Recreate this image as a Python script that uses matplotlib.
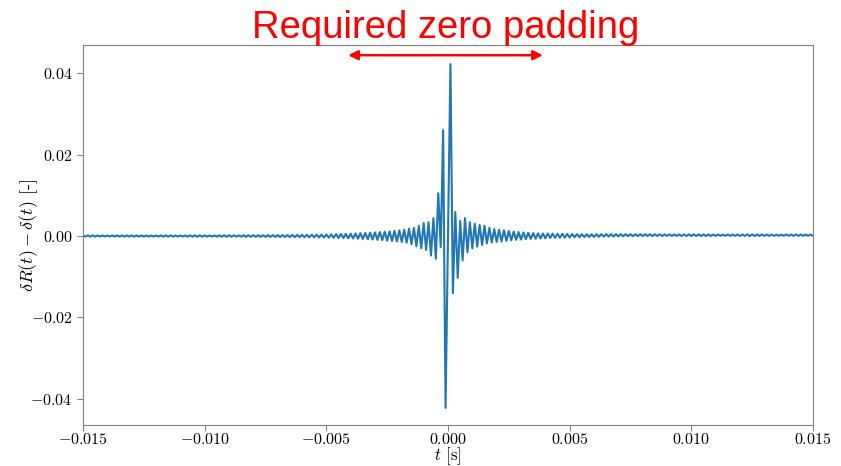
import numpy as np
import matplotlib
matplotlib.use("Agg")
import matplotlib.pyplot as plt
from matplotlib.ticker import FuncFormatter

plt.rcParams["mathtext.fontset"] = "cm"
plt.rcParams["font.family"] = "serif"
plt.rcParams["font.serif"] = ["cmr10", "DejaVu Serif"]
plt.rcParams["axes.formatter.use_mathtext"] = True

# sample step of the extrema (half a ringing period)
step = 1e-4
t_start = -0.015

# signal values in units of 1e-3, one per step from t = -0.015 to t = 0.015
left_far = [
    0.14, -0.13, 0.15, -0.14, 0.16, -0.15, 0.15, -0.13, 0.14, -0.12,
    0.12, -0.11, 0.13, -0.12, 0.14, -0.14, 0.15, -0.15, 0.16, -0.15,
    0.16, -0.16, 0.15, -0.14, 0.14, -0.13, 0.12, -0.12, 0.12, -0.13,
    0.14, -0.15, 0.16, -0.16, 0.17, -0.16, 0.16, -0.15, 0.14, -0.13,
    0.13, -0.13, 0.14, -0.15, 0.16, -0.17, 0.18, -0.18, 0.18, -0.17,
    0.16, -0.15, 0.14, -0.14, 0.15, -0.16, 0.17, -0.18, 0.19, -0.19,
    0.19, -0.18, 0.17, -0.16, 0.16, -0.17, 0.18, -0.19, 0.20, -0.20,
    0.21, -0.20, 0.20, -0.19, 0.19, -0.20, 0.21, -0.22, 0.23, -0.23,
]
left_near = [
    0.23, -0.22, 0.22, -0.23, 0.24, -0.25, 0.26, -0.27, 0.27, -0.28,
    0.29, -0.30, 0.31, -0.32, 0.32, -0.33, 0.35, -0.36, 0.37, -0.38,
    0.39, -0.40, 0.41, -0.43, 0.45, -0.47, 0.49, -0.51, 0.53, -0.56,
    0.58, -0.61, 0.64, -0.67, 0.70, -0.73, 0.76, -0.79, 0.83, -0.87,
    0.90, -0.94, 0.98, -1.02, 1.06, -1.11, 1.16, -1.22, 1.28, -1.35,
    1.40, -1.48, 1.55, -1.65, 1.80, -2.00, 2.00, -2.50, 2.50, -3.00,
    3.20, -3.40, 3.40, -4.80, 4.40, -5.60, 10.5, -2.70, 26.0, -42.2,
]
center = [0.0]
right_near = [
    42.2, -14.0, 5.9, -10.3, 3.7, -6.0, 4.4, -4.0, 3.4, -3.0,
    3.0, -2.6, 2.7, -2.2, 2.5, -1.8, 2.0, -1.6, 1.7, -1.45,
    1.55, -1.35, 1.40, -1.20, 1.22, -1.05, 1.08, -0.95, 0.97, -0.86,
    0.88, -0.78, 0.80, -0.72, 0.73, -0.66, 0.67, -0.61, 0.62, -0.57,
    0.62, -0.48, 0.59, -0.45, 0.56, -0.42, 0.53, -0.39, 0.51, -0.37,
    0.48, -0.31, 0.46, -0.29, 0.45, -0.26, 0.44, -0.24, 0.44, -0.22,
]
right_far = [
    0.45, -0.19, 0.45, -0.16, 0.45, -0.13, 0.45, -0.11, 0.45, -0.10,
    0.46, -0.08, 0.45, -0.06, 0.45, -0.04, 0.44, -0.03, 0.44, -0.02,
    0.44, -0.01, 0.43, 0.00, 0.42, 0.01, 0.42, 0.02, 0.41, 0.02,
    0.40, 0.02, 0.39, 0.03, 0.39, 0.02, 0.40, 0.01, 0.41, 0.00,
    0.40, 0.00, 0.41, -0.01, 0.40, 0.00, 0.39, 0.01, 0.38, 0.02,
    0.37, 0.03, 0.36, 0.04, 0.36, 0.04, 0.37, 0.03, 0.38, 0.02,
    0.39, 0.01, 0.40, 0.00, 0.40, 0.00, 0.39, 0.01, 0.38, 0.02,
    0.37, 0.03, 0.36, 0.05, 0.35, 0.06, 0.35, 0.06, 0.36, 0.05,
    0.37, 0.04, 0.38, 0.03, 0.38, 0.03, 0.37, 0.04, 0.36, 0.05,
]

y = np.array(left_far + left_near + center + right_near + right_far) * 1e-3
t = t_start + step * np.arange(len(y))

xticks = [-0.015, -0.010, -0.005, 0.000, 0.005, 0.010, 0.015]
yticks = [-0.04, -0.02, 0.00, 0.02, 0.04]
padding = (-0.0041, 0.0039)

fig = plt.figure(figsize=(8.41, 4.66), dpi=100)
ax = fig.add_axes([0.0987, 0.088, 0.868, 0.8154])
ax.plot(t, y, color="#1f77b4", lw=1.5)
ax.set_xlim(-0.015, 0.015)
ax.set_ylim(-0.0464, 0.0469)
ax.set_xticks(xticks)
ax.set_yticks(yticks)
ax.xaxis.set_major_formatter(FuncFormatter(lambda v, p: "$%.3f$" % v))
ax.yaxis.set_major_formatter(FuncFormatter(lambda v, p: "$%.2f$" % v))
ax.tick_params(labelsize=11.5, color="#808080", length=4)
ax.tick_params(axis="x", pad=1)
for s in ax.spines.values():
    s.set_color("#808080")
ax.set_xlabel(r"$t$ [s]", fontsize=12, labelpad=-1)
ax.set_ylabel(r"$\delta R(t) - \delta(t)$ [-]", fontsize=13, labelpad=-7)

ax.annotate("", xy=(padding[1], 0.0444), xytext=(padding[0], 0.0444),
            arrowprops=dict(arrowstyle="<|-|>", color="red", lw=1.8,
                            mutation_scale=14, shrinkA=0, shrinkB=0))
fig.text(0.530, 0.918, "Required zero padding", color="red",
         fontsize=27.5, family="Liberation Sans", ha="center", va="baseline")

fig.savefig("out.png", dpi=100)
